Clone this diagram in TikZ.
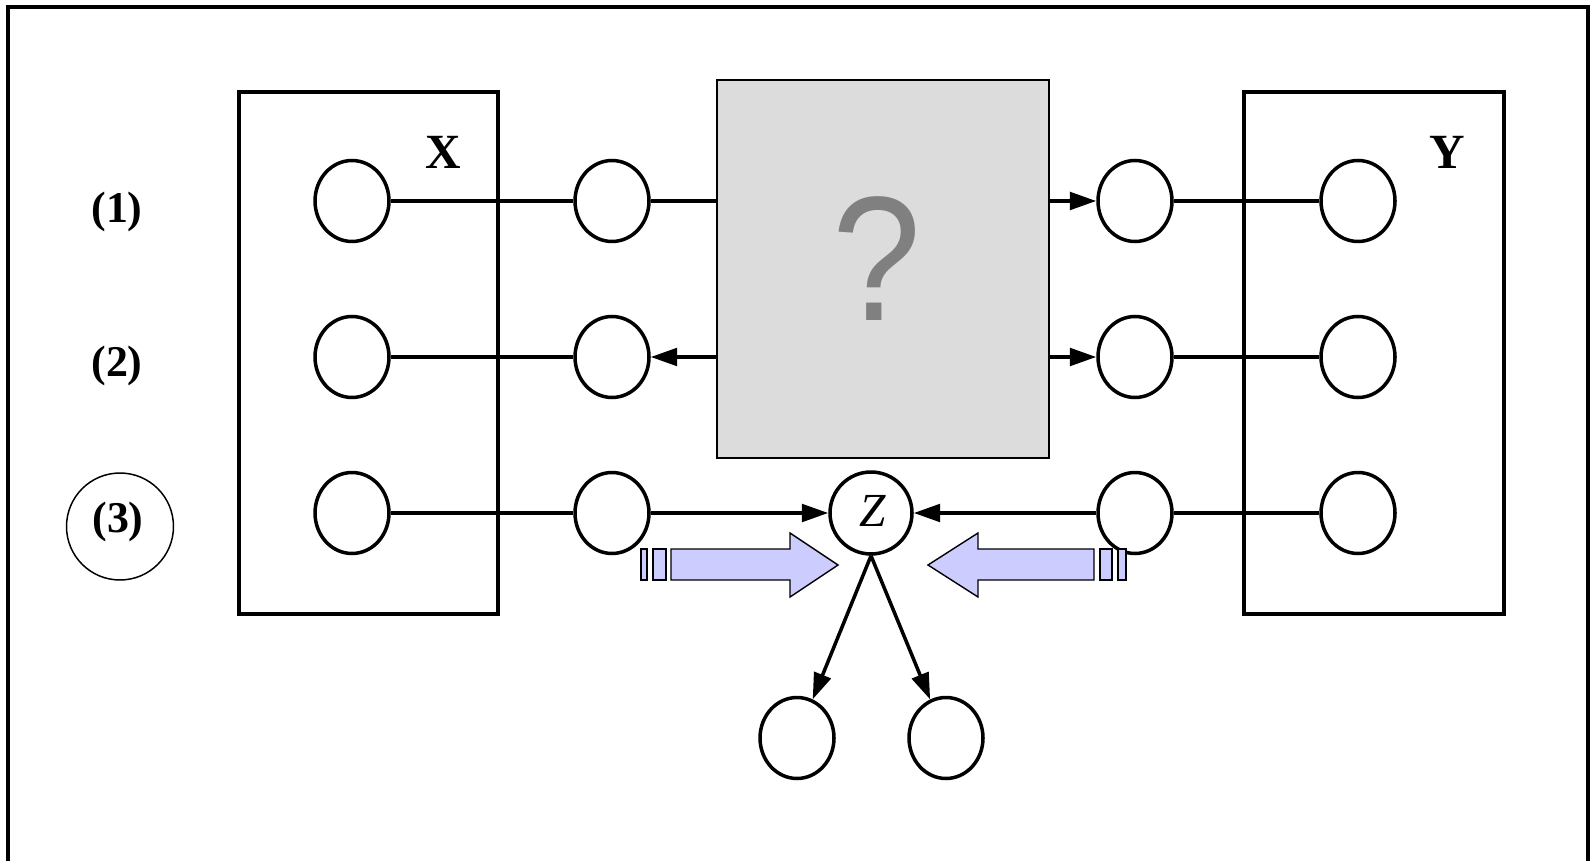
\documentclass[tikz,border=0pt]{standalone}
\usepackage{fontspec}
\setmainfont{Liberation Serif}
\newfontfamily\qmarkfont{Liberation Sans}
\usetikzlibrary{shapes.geometric,arrows.meta}

\definecolor{panelgray}{HTML}{DCDCDC}
\definecolor{qgray}{HTML}{808080}
\definecolor{lavender}{HTML}{CCCCFF}

\tikzset{
  frameline/.style={line width=2.4pt},
  groupbox/.style={draw, line width=2pt, rectangle, inner sep=0pt},
  varnode/.style={draw, ellipse, line width=2pt, inner sep=0pt,
                  minimum width=1.48cm, minimum height=1.62cm},
  znode/.style={draw, circle, line width=2pt, inner sep=0pt, minimum size=1.64cm},
  conn/.style={line width=2pt},
  arr/.style={line width=2pt, -{Triangle[length=15pt,width=10pt]}},
  rowlabel/.style={font=\fontsize{25}{25}\selectfont\bfseries},
  setlabel/.style={font=\fontsize{28}{28}\selectfont\bfseries},
  blockarrow/.style={fill=lavender, draw=black, line width=0.8pt},
}

\begin{document}
\begin{tikzpicture}[x=0.02cm, y=-0.02cm]
\useasboundingbox (0,0) rectangle (1591,861);

% outer frame (open at the bottom)
\draw[frameline] (8,861) -- (8,7) -- (1588,7) -- (1588,861);

% the two variable groups
\node[groupbox, minimum width=5.18cm, minimum height=10.44cm] (X) at (368.5,353) {};
\node[groupbox, minimum width=5.20cm, minimum height=10.44cm] (Y) at (1374,353) {};
\node[setlabel] (Xl) at (443,152) {X};
\node[setlabel] (Yl) at (1447,152) {Y};

% unknown mechanism
\node[draw, line width=0.9pt, fill=panelgray, minimum width=6.64cm, minimum height=7.56cm,
      inner sep=0pt] (Q) at (883,269) {};
\node[text=qgray, inner sep=0pt, xscale=0.9] (Qm) at (877,259)
     {\qmarkfont\fontsize{101}{101}\selectfont ?};

% row labels
\node[rowlabel] (r1) at (117,212) {(1)};
\node[rowlabel] (r2) at (117,366) {(2)};
\node[rowlabel] (r3) at (118,522) {(3)};
\node[draw, circle, line width=0.85pt, minimum size=2.14cm] (r3ring) at (120,526.5) {};

% variables
\foreach \r/\y in {1/201, 2/357, 3/513} {
  \node[varnode] (a\r) at (352,\y) {};
  \node[varnode] (b\r) at (612,\y) {};
  \node[varnode] (c\r) at (1135,\y) {};
  \node[varnode] (d\r) at (1358,\y) {};
}
\node[znode] (Z) at (871,513) {};
\node[font=\fontsize{27}{27}\selectfont\itshape] (Zt) at (873,511) {Z};
\node[varnode] (e1) at (797,738) {};
\node[varnode] (e2) at (946,738) {};

% row (1)
\draw[conn] (a1) -- (b1);
\draw[conn] (b1) -- (b1 -| Q.west);
\draw[arr] (c1 -| Q.east) -- (c1);
\draw[conn] (c1) -- (d1);

% row (2)
\draw[conn] (a2) -- (b2);
\draw[arr] (b2 -| Q.west) -- (b2);
\draw[arr] (c2 -| Q.east) -- (c2);
\draw[conn] (c2) -- (d2);

% row (3)
\draw[conn] (a3) -- (b3);
\draw[arr] (b3) -- (Z);
\draw[arr] (c3) -- (Z);
\draw[conn] (c3) -- (d3);
\draw[arr] (Z.south) -- (e1);
\draw[arr] (Z.south) -- (e2);

% block arrows pointing at Z
\draw[blockarrow] (641,549) rectangle (647,580);
\draw[blockarrow] (653,549) rectangle (666,580);
\draw[blockarrow] (671,549) -- (790,549) -- (790,533) -- (838,565) -- (790,597)
                  -- (790,580) -- (671,580) -- cycle;
\draw[blockarrow] (1118,549) rectangle (1126,580);
\draw[blockarrow] (1100,549) rectangle (1112,580);
\draw[blockarrow] (1094,549) -- (978,549) -- (978,533) -- (928,565) -- (978,597)
                  -- (978,580) -- (1094,580) -- cycle;
\end{tikzpicture}
\end{document}
